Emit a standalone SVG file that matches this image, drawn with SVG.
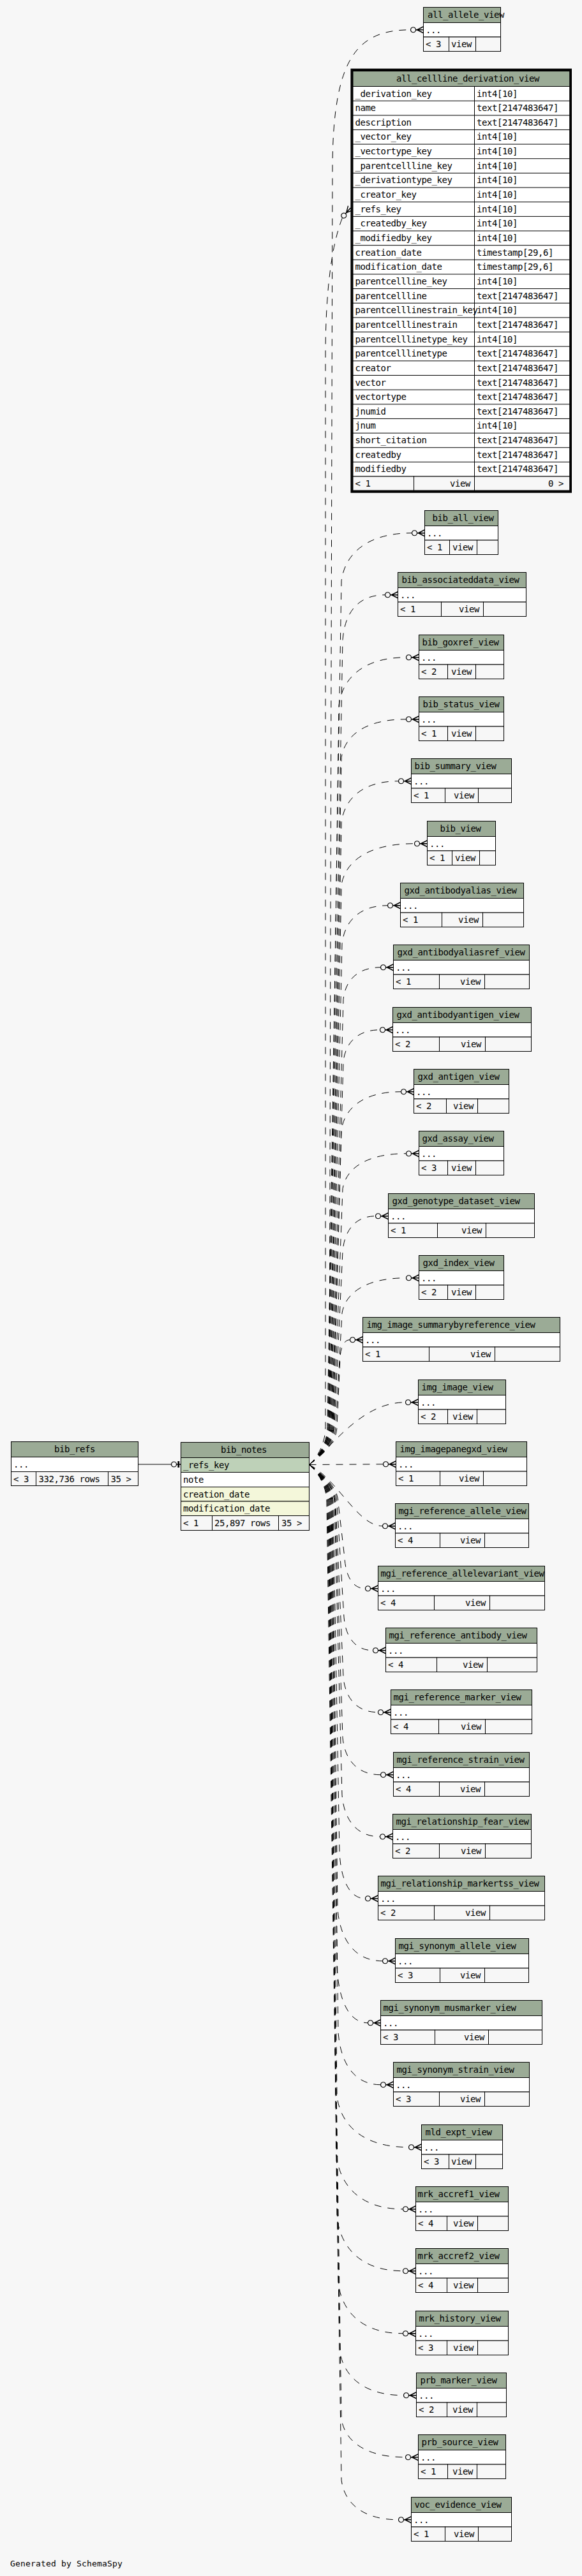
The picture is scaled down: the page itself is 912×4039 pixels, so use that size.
<svg xmlns="http://www.w3.org/2000/svg" width="912" height="4039" viewBox="0 0 912 4039">
<style>
.t{font-family:"DejaVu Sans Mono","Liberation Mono",monospace;font-size:14px;letter-spacing:-0.43px;fill:#000}
.e{text-anchor:end}
.m{text-anchor:middle}
.hd{fill:#9bab96;stroke:#000;stroke-width:1}
.wh{fill:#fff;stroke:#000;stroke-width:1}
.ft{fill:#f7f7f7;stroke:#000;stroke-width:1}
.pk{fill:#bed1b8;stroke:#000;stroke-width:1}
.ix{fill:#f4f7da;stroke:#000;stroke-width:1}
.c{fill:none;stroke:#000;stroke-width:1;stroke-dasharray:11 10}
.s{fill:none;stroke:#000;stroke-width:1}
</style>
<defs>
<marker id="crow" markerUnits="userSpaceOnUse" markerWidth="24" markerHeight="14" refX="20" refY="7" orient="auto" overflow="visible">
<circle cx="4" cy="7" r="4" fill="#f7f7f7" stroke="#000" stroke-width="1.2"/>
<path d="M8 7H20M10 7L20 2M10 7L20 12" fill="none" stroke="#000" stroke-width="1.4"/>
</marker>
<marker id="teeodot" markerUnits="userSpaceOnUse" markerWidth="20" markerHeight="14" refX="16" refY="7" orient="auto" overflow="visible">
<circle cx="5" cy="7" r="4" fill="#f7f7f7" stroke="#000" stroke-width="1.2"/>
<path d="M9 7H16" fill="none" stroke="#000" stroke-width="1"/>
<path d="M12.3 2V12" fill="none" stroke="#000" stroke-width="2.7"/>
</marker>
</defs>
<rect x="0" y="0" width="912" height="4039" fill="#f7f7f7"/>

<g id="connectors">
<path class="s" marker-end="url(#teeodot)" d="M216.5 2296H283.5"/>
<path class="c" marker-end="url(#crow)" d="M484.5 2296.5C494.5 2288.5 510 2266.5 510 2236.5L510 560C510 430 525 370 537.1 339.9L549.3 326"/>
<path class="c" marker-end="url(#crow)" d="M484.5 2296.5C494.5 2288.5 516 2266.5 516 2236.5L521 260C522 90 560 46.75 643.5 46.75H663.5"/>
<path class="c" marker-end="url(#crow)" d="M484.5 2296.5C494.5 2288.5 513 2266.5 513 2236.5L535 910.75C540.5 869.5 573.7 835.75 645.5 835.75H665.5"/>
<path class="c" marker-end="url(#crow)" d="M484.5 2296.5C494.5 2288.5 514 2266.5 514 2236.5L537 1002.75C540.3 961.25 560.3 932.75 603.5 932.75H623.5"/>
<path class="c" marker-end="url(#crow)" d="M484.5 2296.5C494.5 2288.5 515 2266.5 515 2236.5L531 1105.75C536.3 1064.5 567.9 1030.75 636.5 1030.75H656.5"/>
<path class="c" marker-end="url(#crow)" d="M484.5 2296.5C494.5 2288.5 516 2266.5 516 2236.5L535 1187.75C540.1 1154.75 570.5 1127.75 636.5 1127.75H656.5"/>
<path class="c" marker-end="url(#crow)" d="M484.5 2296.5C494.5 2288.5 517 2266.5 517 2236.5L535 1289.75C539.5 1254 566.3 1224.75 624.5 1224.75H644.5"/>
<path class="c" marker-end="url(#crow)" d="M484.5 2296.5C494.5 2288.5 518 2266.5 518 2236.5L535 1387.75C540.7 1352 575.1 1322.75 649.5 1322.75H669.5"/>
<path class="c" marker-end="url(#crow)" d="M484.5 2296.5C494.5 2288.5 519 2266.5 519 2236.5L536 1479.75C539.6 1446.75 561 1419.75 607.5 1419.75H627.5"/>
<path class="c" marker-end="url(#crow)" d="M484.5 2296.5C494.5 2288.5 520 2266.5 520 2236.5L538 1566.75C540.9 1539.25 558.5 1516.75 596.5 1516.75H616.5"/>
<path class="c" marker-end="url(#crow)" d="M484.5 2296.5C494.5 2288.5 521 2266.5 521 2236.5L538 1664.75C540.9 1637.25 558.1 1614.75 595.5 1614.75H615.5"/>
<path class="c" marker-end="url(#crow)" d="M484.5 2296.5C494.5 2288.5 522 2266.5 522 2236.5L535 1771.75C539.7 1738.75 567.7 1711.75 628.5 1711.75H648.5"/>
<path class="c" marker-end="url(#crow)" d="M484.5 2296.5C494.5 2288.5 523 2266.5 523 2236.5L537 1863.75C542 1833.5 571.8 1808.75 636.5 1808.75H656.5"/>
<path class="c" marker-end="url(#crow)" d="M484.5 2296.5C494.5 2288.5 524 2266.5 524 2236.5L537 1961.75C539.6 1931.5 555 1906.75 588.5 1906.75H608.5"/>
<path class="c" marker-end="url(#crow)" d="M484.5 2296.5C494.5 2288.5 526 2266.5 526 2236.5L536 2058.75C541 2028.5 571.2 2003.75 636.5 2003.75H656.5"/>
<path class="c" marker-end="url(#crow)" d="M484.5 2296.5C494.5 2288.5 528 2266.5 528 2236.5L533 2128.75C533.8 2113.35 538.4 2100.75 548.5 2100.75H568.5"/>
<path class="c" marker-end="url(#crow)" d="M484.5 2296.5C520 2270 565 2198.75 635.5 2198.75H655.5"/>
<path class="c" marker-end="url(#crow)" d="M484.5 2296.5L600.5 2295.75H620.5"/>
<path class="c" marker-end="url(#crow)" d="M484.5 2296.5C530 2320 560 2392.75 599.5 2392.75H619.5"/>
<path class="c" marker-end="url(#crow)" d="M484.5 2296.5C494.5 2304.5 530 2326.5 530 2356.5L540 2442.75C541.6 2469.15 551.4 2490.75 572.5 2490.75H592.5"/>
<path class="c" marker-end="url(#crow)" d="M484.5 2296.5C494.5 2304.5 528 2326.5 528 2356.5L539 2535.75C541.3 2564.35 554.9 2587.75 584.5 2587.75H604.5"/>
<path class="c" marker-end="url(#crow)" d="M484.5 2296.5C494.5 2304.5 526 2326.5 526 2356.5L538 2629.75C540.7 2660 557.1 2684.75 592.5 2684.75H612.5"/>
<path class="c" marker-end="url(#crow)" d="M484.5 2296.5C494.5 2304.5 525 2326.5 525 2356.5L537 2724.75C540 2756.65 557.8 2782.75 596.5 2782.75H616.5"/>
<path class="c" marker-end="url(#crow)" d="M484.5 2296.5C494.5 2304.5 524 2326.5 524 2356.5L536 2814.75C539 2850.5 556.8 2879.75 595.5 2879.75H615.5"/>
<path class="c" marker-end="url(#crow)" d="M484.5 2296.5C494.5 2304.5 522 2326.5 522 2356.5L532 2904.75C534 2944.35 546.2 2976.75 572.5 2976.75H592.5"/>
<path class="c" marker-end="url(#crow)" d="M484.5 2296.5C494.5 2304.5 521 2326.5 521 2356.5L529 2992.75C532.5 3037.85 553.7 3074.75 599.5 3074.75H619.5"/>
<path class="c" marker-end="url(#crow)" d="M484.5 2296.5C494.5 2304.5 520 2326.5 520 2356.5L528 3083.75C530.4 3132.15 545 3171.75 576.5 3171.75H596.5"/>
<path class="c" marker-end="url(#crow)" d="M484.5 2296.5C494.5 2304.5 519 2326.5 519 2356.5L530 3186.75C533.3 3231.85 553.3 3268.75 596.5 3268.75H616.5"/>
<path class="c" marker-end="url(#crow)" d="M484.5 2296.5C494.5 2304.5 518 2326.5 518 2356.5L528 3286.75C533.6 3330.75 567.4 3366.75 640.5 3366.75H660.5"/>
<path class="c" marker-end="url(#crow)" d="M484.5 2296.5C494.5 2304.5 517 2326.5 517 2356.5L527 3378.75C532.2 3425.5 563.6 3463.75 631.5 3463.75H651.5"/>
<path class="c" marker-end="url(#crow)" d="M484.5 2296.5C494.5 2304.5 516 2326.5 516 2356.5L528 3475.75C533.2 3522.5 564.2 3560.75 631.5 3560.75H651.5"/>
<path class="c" marker-end="url(#crow)" d="M484.5 2296.5C494.5 2304.5 515 2326.5 515 2356.5L530 3578.75C535.1 3622.75 565.5 3658.75 631.5 3658.75H651.5"/>
<path class="c" marker-end="url(#crow)" d="M484.5 2296.5C494.5 2304.5 514 2326.5 514 2356.5L532 3683.75C537 3723.35 567.2 3755.75 632.5 3755.75H652.5"/>
<path class="c" marker-end="url(#crow)" d="M484.5 2296.5C494.5 2304.5 513 2326.5 513 2356.5L535 3792.75C540 3825.75 570.2 3852.75 635.5 3852.75H655.5"/>
<path class="c" marker-end="url(#crow)" d="M484.5 2296.5C494.5 2304.5 512 2326.5 512 2356.5L535 3888.75C539.5 3922.85 566.3 3950.75 624.5 3950.75H644.5"/>
</g>

<g id="bib_refs">
<rect class="hd" x="17.5" y="2260.5" width="199" height="24"/>
<rect class="wh" x="17.5" y="2284.5" width="199" height="23"/>
<rect class="ft" x="17.5" y="2307.5" width="39" height="22"/>
<rect class="ft" x="56.5" y="2307.5" width="113" height="22"/>
<rect class="ft" x="169.5" y="2307.5" width="47" height="22"/>
<text class="t m" x="117" y="2277">bib_refs</text>
<text class="t" x="21" y="2300.5">...</text>
<text class="t" x="21" y="2323.5">&lt; 3</text>
<text class="t" x="60.5" y="2323.5">332,736 rows</text>
<text class="t" x="173.5" y="2323.5">35 &gt;</text>
</g>

<g id="bib_notes">
<rect class="hd" x="283.5" y="2261.5" width="201" height="24"/>
<rect class="pk" x="283.5" y="2285.5" width="201" height="23"/>
<rect class="wh" x="283.5" y="2308.5" width="201" height="23"/>
<rect class="ix" x="283.5" y="2331.5" width="201" height="22.5"/>
<rect class="ix" x="283.5" y="2354" width="201" height="22.5"/>
<rect class="ft" x="283.5" y="2376.5" width="49" height="23"/>
<rect class="ft" x="332.5" y="2376.5" width="104" height="23"/>
<rect class="ft" x="436.5" y="2376.5" width="48" height="23"/>
<text class="t m" x="382" y="2278">bib_notes</text>
<text class="t" x="287" y="2301.5">_refs_key</text>
<text class="t" x="287" y="2324.5">note</text>
<text class="t" x="287" y="2347.5">creation_date</text>
<text class="t" x="287" y="2370">modification_date</text>
<text class="t" x="287" y="2392.5">&lt; 1</text>
<text class="t" x="336" y="2392.5">25,897 rows</text>
<text class="t" x="441" y="2392.5">35 &gt;</text>
</g>

<g id="all_cellline_derivation_view">
<rect class="hd" x="553" y="111.5" width="340" height="24"/>
<rect class="wh" x="553" y="135.5" width="340" height="611.5"/>
<path class="s" d="M553 158.15H893M553 180.8H893M553 203.45H893M553 226.1H893M553 248.75H893M553 271.4H893M553 294.05H893M553 316.7H893M553 339.35H893M553 362H893M553 384.65H893M553 407.3H893M553 429.95H893M553 452.6H893M553 475.25H893M553 497.9H893M553 520.55H893M553 543.2H893M553 565.85H893M553 588.5H893M553 611.15H893M553 633.8H893M553 656.45H893M553 679.1H893M553 701.75H893M553 724.4H893M743.5 135.5V747"/>
<rect class="ft" x="553" y="747" width="95.5" height="22"/>
<rect class="ft" x="648.5" y="747" width="95" height="22"/>
<rect class="ft" x="743.5" y="747" width="149.5" height="22"/>
<rect x="551.2" y="109.4" width="343" height="661.6" fill="none" stroke="#000" stroke-width="3.6"/>
<text class="t" x="621" y="128">all_cellline_derivation_view</text>
<text class="t" x="556.5" y="151.5">_derivation_key</text><text class="t" x="747" y="151.5">int4[10]</text>
<text class="t" x="556.5" y="174.15">name</text><text class="t" x="747" y="174.15">text[2147483647]</text>
<text class="t" x="556.5" y="196.8">description</text><text class="t" x="747" y="196.8">text[2147483647]</text>
<text class="t" x="556.5" y="219.45">_vector_key</text><text class="t" x="747" y="219.45">int4[10]</text>
<text class="t" x="556.5" y="242.1">_vectortype_key</text><text class="t" x="747" y="242.1">int4[10]</text>
<text class="t" x="556.5" y="264.75">_parentcellline_key</text><text class="t" x="747" y="264.75">int4[10]</text>
<text class="t" x="556.5" y="287.4">_derivationtype_key</text><text class="t" x="747" y="287.4">int4[10]</text>
<text class="t" x="556.5" y="310.05">_creator_key</text><text class="t" x="747" y="310.05">int4[10]</text>
<text class="t" x="556.5" y="332.7">_refs_key</text><text class="t" x="747" y="332.7">int4[10]</text>
<text class="t" x="556.5" y="355.35">_createdby_key</text><text class="t" x="747" y="355.35">int4[10]</text>
<text class="t" x="556.5" y="378">_modifiedby_key</text><text class="t" x="747" y="378">int4[10]</text>
<text class="t" x="556.5" y="400.65">creation_date</text><text class="t" x="747" y="400.65">timestamp[29,6]</text>
<text class="t" x="556.5" y="423.3">modification_date</text><text class="t" x="747" y="423.3">timestamp[29,6]</text>
<text class="t" x="556.5" y="445.95">parentcellline_key</text><text class="t" x="747" y="445.95">int4[10]</text>
<text class="t" x="556.5" y="468.6">parentcellline</text><text class="t" x="747" y="468.6">text[2147483647]</text>
<text class="t" x="556.5" y="491.25">parentcelllinestrain_key</text><text class="t" x="747" y="491.25">int4[10]</text>
<text class="t" x="556.5" y="513.9">parentcelllinestrain</text><text class="t" x="747" y="513.9">text[2147483647]</text>
<text class="t" x="556.5" y="536.55">parentcelllinetype_key</text><text class="t" x="747" y="536.55">int4[10]</text>
<text class="t" x="556.5" y="559.2">parentcelllinetype</text><text class="t" x="747" y="559.2">text[2147483647]</text>
<text class="t" x="556.5" y="581.85">creator</text><text class="t" x="747" y="581.85">text[2147483647]</text>
<text class="t" x="556.5" y="604.5">vector</text><text class="t" x="747" y="604.5">text[2147483647]</text>
<text class="t" x="556.5" y="627.15">vectortype</text><text class="t" x="747" y="627.15">text[2147483647]</text>
<text class="t" x="556.5" y="649.8">jnumid</text><text class="t" x="747" y="649.8">text[2147483647]</text>
<text class="t" x="556.5" y="672.45">jnum</text><text class="t" x="747" y="672.45">int4[10]</text>
<text class="t" x="556.5" y="695.1">short_citation</text><text class="t" x="747" y="695.1">text[2147483647]</text>
<text class="t" x="556.5" y="717.75">createdby</text><text class="t" x="747" y="717.75">text[2147483647]</text>
<text class="t" x="556.5" y="740.4">modifiedby</text><text class="t" x="747" y="740.4">text[2147483647]</text>
<text class="t" x="556.5" y="763">&lt; 1</text>
<text class="t e" x="737" y="763">view</text>
<text class="t e" x="883" y="763">0 &gt;</text>
</g>

<g id="all_allele_view">
<rect class="hd" x="663.5" y="11.5" width="121" height="24"/>
<rect class="wh" x="663.5" y="35.5" width="121" height="22.5"/>
<rect class="ft" x="663.5" y="58" width="40" height="22.5"/>
<rect class="ft" x="703.5" y="58" width="42" height="22.5"/>
<rect class="ft" x="745.5" y="58" width="39" height="22.5"/>
<text class="t" x="670" y="28">all_allele_view</text>
<text class="t" x="667" y="51.5">...</text>
<text class="t" x="667" y="74">&lt; 3</text>
<text class="t e" x="739" y="74">view</text>
</g>

<g id="bib_all_view">
<rect class="hd" x="665.5" y="800.5" width="115" height="24"/>
<rect class="wh" x="665.5" y="824.5" width="115" height="22.5"/>
<rect class="ft" x="665.5" y="847" width="39" height="22.5"/>
<rect class="ft" x="704.5" y="847" width="43" height="22.5"/>
<rect class="ft" x="747.5" y="847" width="33" height="22.5"/>
<text class="t" x="677.5" y="817">bib_all_view</text>
<text class="t" x="669" y="840.5">...</text>
<text class="t" x="669" y="863">&lt; 1</text>
<text class="t e" x="741" y="863">view</text>
</g>

<g id="bib_associateddata_view">
<rect class="hd" x="623.5" y="897.5" width="201" height="24"/>
<rect class="wh" x="623.5" y="921.5" width="201" height="22.5"/>
<rect class="ft" x="623.5" y="944" width="68" height="22.5"/>
<rect class="ft" x="691.5" y="944" width="66" height="22.5"/>
<rect class="ft" x="757.5" y="944" width="67" height="22.5"/>
<text class="t" x="629.5" y="914">bib_associateddata_view</text>
<text class="t" x="627" y="937.5">...</text>
<text class="t" x="627" y="960">&lt; 1</text>
<text class="t e" x="751" y="960">view</text>
</g>

<g id="bib_goxref_view">
<rect class="hd" x="656.5" y="995.5" width="133" height="24"/>
<rect class="wh" x="656.5" y="1019.5" width="133" height="22.5"/>
<rect class="ft" x="656.5" y="1042" width="45" height="22.5"/>
<rect class="ft" x="701.5" y="1042" width="44" height="22.5"/>
<rect class="ft" x="745.5" y="1042" width="44" height="22.5"/>
<text class="t" x="661.5" y="1012">bib_goxref_view</text>
<text class="t" x="660" y="1035.5">...</text>
<text class="t" x="660" y="1058">&lt; 2</text>
<text class="t e" x="739" y="1058">view</text>
</g>

<g id="bib_status_view">
<rect class="hd" x="656.5" y="1092.5" width="133" height="24"/>
<rect class="wh" x="656.5" y="1116.5" width="133" height="22.5"/>
<rect class="ft" x="656.5" y="1139" width="45" height="22.5"/>
<rect class="ft" x="701.5" y="1139" width="44" height="22.5"/>
<rect class="ft" x="745.5" y="1139" width="44" height="22.5"/>
<text class="t" x="662.5" y="1109">bib_status_view</text>
<text class="t" x="660" y="1132.5">...</text>
<text class="t" x="660" y="1155">&lt; 1</text>
<text class="t e" x="739" y="1155">view</text>
</g>

<g id="bib_summary_view">
<rect class="hd" x="644.5" y="1189.5" width="157" height="24"/>
<rect class="wh" x="644.5" y="1213.5" width="157" height="22.5"/>
<rect class="ft" x="644.5" y="1236" width="53" height="22.5"/>
<rect class="ft" x="697.5" y="1236" width="52" height="22.5"/>
<rect class="ft" x="749.5" y="1236" width="52" height="22.5"/>
<text class="t" x="649.5" y="1206">bib_summary_view</text>
<text class="t" x="648" y="1229.5">...</text>
<text class="t" x="648" y="1252">&lt; 1</text>
<text class="t e" x="743" y="1252">view</text>
</g>

<g id="bib_view">
<rect class="hd" x="669.5" y="1287.5" width="107" height="24"/>
<rect class="wh" x="669.5" y="1311.5" width="107" height="22.5"/>
<rect class="ft" x="669.5" y="1334" width="39" height="22.5"/>
<rect class="ft" x="708.5" y="1334" width="43" height="22.5"/>
<rect class="ft" x="751.5" y="1334" width="25" height="22.5"/>
<text class="t" x="689.5" y="1304">bib_view</text>
<text class="t" x="673" y="1327.5">...</text>
<text class="t" x="673" y="1350">&lt; 1</text>
<text class="t e" x="745" y="1350">view</text>
</g>

<g id="gxd_antibodyalias_view">
<rect class="hd" x="627.5" y="1384.5" width="193" height="24"/>
<rect class="wh" x="627.5" y="1408.5" width="193" height="22.5"/>
<rect class="ft" x="627.5" y="1431" width="65" height="22.5"/>
<rect class="ft" x="692.5" y="1431" width="64" height="22.5"/>
<rect class="ft" x="756.5" y="1431" width="64" height="22.5"/>
<text class="t" x="633.5" y="1401">gxd_antibodyalias_view</text>
<text class="t" x="631" y="1424.5">...</text>
<text class="t" x="631" y="1447">&lt; 1</text>
<text class="t e" x="750" y="1447">view</text>
</g>

<g id="gxd_antibodyaliasref_view">
<rect class="hd" x="616.5" y="1481.5" width="213" height="24"/>
<rect class="wh" x="616.5" y="1505.5" width="213" height="22.5"/>
<rect class="ft" x="616.5" y="1528" width="72" height="22.5"/>
<rect class="ft" x="688.5" y="1528" width="71" height="22.5"/>
<rect class="ft" x="759.5" y="1528" width="70" height="22.5"/>
<text class="t" x="622.5" y="1498">gxd_antibodyaliasref_view</text>
<text class="t" x="620" y="1521.5">...</text>
<text class="t" x="620" y="1544">&lt; 1</text>
<text class="t e" x="753" y="1544">view</text>
</g>

<g id="gxd_antibodyantigen_view">
<rect class="hd" x="615.5" y="1579.5" width="217" height="24"/>
<rect class="wh" x="615.5" y="1603.5" width="217" height="22.5"/>
<rect class="ft" x="615.5" y="1626" width="73" height="22.5"/>
<rect class="ft" x="688.5" y="1626" width="72" height="22.5"/>
<rect class="ft" x="760.5" y="1626" width="72" height="22.5"/>
<text class="t" x="621.5" y="1596">gxd_antibodyantigen_view</text>
<text class="t" x="619" y="1619.5">...</text>
<text class="t" x="619" y="1642">&lt; 2</text>
<text class="t e" x="754" y="1642">view</text>
</g>

<g id="gxd_antigen_view">
<rect class="hd" x="648.5" y="1676.5" width="149" height="24"/>
<rect class="wh" x="648.5" y="1700.5" width="149" height="22.5"/>
<rect class="ft" x="648.5" y="1723" width="51" height="22.5"/>
<rect class="ft" x="699.5" y="1723" width="49" height="22.5"/>
<rect class="ft" x="748.5" y="1723" width="49" height="22.5"/>
<text class="t" x="654.5" y="1693">gxd_antigen_view</text>
<text class="t" x="652" y="1716.5">...</text>
<text class="t" x="652" y="1739">&lt; 2</text>
<text class="t e" x="742" y="1739">view</text>
</g>

<g id="gxd_assay_view">
<rect class="hd" x="656.5" y="1773.5" width="133" height="24"/>
<rect class="wh" x="656.5" y="1797.5" width="133" height="22.5"/>
<rect class="ft" x="656.5" y="1820" width="45" height="22.5"/>
<rect class="ft" x="701.5" y="1820" width="44" height="22.5"/>
<rect class="ft" x="745.5" y="1820" width="44" height="22.5"/>
<text class="t" x="661.5" y="1790">gxd_assay_view</text>
<text class="t" x="660" y="1813.5">...</text>
<text class="t" x="660" y="1836">&lt; 3</text>
<text class="t e" x="739" y="1836">view</text>
</g>

<g id="gxd_genotype_dataset_view">
<rect class="hd" x="608.5" y="1871.5" width="229" height="24"/>
<rect class="wh" x="608.5" y="1895.5" width="229" height="22.5"/>
<rect class="ft" x="608.5" y="1918" width="77" height="22.5"/>
<rect class="ft" x="685.5" y="1918" width="76" height="22.5"/>
<rect class="ft" x="761.5" y="1918" width="76" height="22.5"/>
<text class="t" x="614.5" y="1888">gxd_genotype_dataset_view</text>
<text class="t" x="612" y="1911.5">...</text>
<text class="t" x="612" y="1934">&lt; 1</text>
<text class="t e" x="755" y="1934">view</text>
</g>

<g id="gxd_index_view">
<rect class="hd" x="656.5" y="1968.5" width="133" height="24"/>
<rect class="wh" x="656.5" y="1992.5" width="133" height="22.5"/>
<rect class="ft" x="656.5" y="2015" width="45" height="22.5"/>
<rect class="ft" x="701.5" y="2015" width="44" height="22.5"/>
<rect class="ft" x="745.5" y="2015" width="44" height="22.5"/>
<text class="t" x="662.5" y="1985">gxd_index_view</text>
<text class="t" x="660" y="2008.5">...</text>
<text class="t" x="660" y="2031">&lt; 2</text>
<text class="t e" x="739" y="2031">view</text>
</g>

<g id="img_image_summarybyreference_view">
<rect class="hd" x="568.5" y="2065.5" width="309" height="24"/>
<rect class="wh" x="568.5" y="2089.5" width="309" height="22.5"/>
<rect class="ft" x="568.5" y="2112" width="104" height="22.5"/>
<rect class="ft" x="672.5" y="2112" width="103" height="22.5"/>
<rect class="ft" x="775.5" y="2112" width="102" height="22.5"/>
<text class="t" x="574.5" y="2082">img_image_summarybyreference_view</text>
<text class="t" x="572" y="2105.5">...</text>
<text class="t" x="572" y="2128">&lt; 1</text>
<text class="t e" x="769" y="2128">view</text>
</g>

<g id="img_image_view">
<rect class="hd" x="655.5" y="2163.5" width="137" height="24"/>
<rect class="wh" x="655.5" y="2187.5" width="137" height="22.5"/>
<rect class="ft" x="655.5" y="2210" width="46" height="22.5"/>
<rect class="ft" x="701.5" y="2210" width="46" height="22.5"/>
<rect class="ft" x="747.5" y="2210" width="45" height="22.5"/>
<text class="t" x="660.5" y="2180">img_image_view</text>
<text class="t" x="659" y="2203.5">...</text>
<text class="t" x="659" y="2226">&lt; 2</text>
<text class="t e" x="741" y="2226">view</text>
</g>

<g id="img_imagepanegxd_view">
<rect class="hd" x="620.5" y="2260.5" width="205" height="24"/>
<rect class="wh" x="620.5" y="2284.5" width="205" height="22.5"/>
<rect class="ft" x="620.5" y="2307" width="69" height="22.5"/>
<rect class="ft" x="689.5" y="2307" width="68" height="22.5"/>
<rect class="ft" x="757.5" y="2307" width="68" height="22.5"/>
<text class="t" x="626.5" y="2277">img_imagepanegxd_view</text>
<text class="t" x="624" y="2300.5">...</text>
<text class="t" x="624" y="2323">&lt; 1</text>
<text class="t e" x="751" y="2323">view</text>
</g>

<g id="mgi_reference_allele_view">
<rect class="hd" x="619.5" y="2357.5" width="209" height="24"/>
<rect class="wh" x="619.5" y="2381.5" width="209" height="22.5"/>
<rect class="ft" x="619.5" y="2404" width="70" height="22.5"/>
<rect class="ft" x="689.5" y="2404" width="70" height="22.5"/>
<rect class="ft" x="759.5" y="2404" width="69" height="22.5"/>
<text class="t" x="624.5" y="2374">mgi_reference_allele_view</text>
<text class="t" x="623" y="2397.5">...</text>
<text class="t" x="623" y="2420">&lt; 4</text>
<text class="t e" x="753" y="2420">view</text>
</g>

<g id="mgi_reference_allelevariant_view">
<rect class="hd" x="592.5" y="2455.5" width="261" height="24"/>
<rect class="wh" x="592.5" y="2479.5" width="261" height="22.5"/>
<rect class="ft" x="592.5" y="2502" width="88" height="22.5"/>
<rect class="ft" x="680.5" y="2502" width="87" height="22.5"/>
<rect class="ft" x="767.5" y="2502" width="86" height="22.5"/>
<text class="t" x="596.5" y="2472">mgi_reference_allelevariant_view</text>
<text class="t" x="596" y="2495.5">...</text>
<text class="t" x="596" y="2518">&lt; 4</text>
<text class="t e" x="761" y="2518">view</text>
</g>

<g id="mgi_reference_antibody_view">
<rect class="hd" x="604.5" y="2552.5" width="237" height="24"/>
<rect class="wh" x="604.5" y="2576.5" width="237" height="22.5"/>
<rect class="ft" x="604.5" y="2599" width="80" height="22.5"/>
<rect class="ft" x="684.5" y="2599" width="79" height="22.5"/>
<rect class="ft" x="763.5" y="2599" width="78" height="22.5"/>
<text class="t" x="609.5" y="2569">mgi_reference_antibody_view</text>
<text class="t" x="608" y="2592.5">...</text>
<text class="t" x="608" y="2615">&lt; 4</text>
<text class="t e" x="757" y="2615">view</text>
</g>

<g id="mgi_reference_marker_view">
<rect class="hd" x="612.5" y="2649.5" width="221" height="24"/>
<rect class="wh" x="612.5" y="2673.5" width="221" height="22.5"/>
<rect class="ft" x="612.5" y="2696" width="75" height="22.5"/>
<rect class="ft" x="687.5" y="2696" width="73" height="22.5"/>
<rect class="ft" x="760.5" y="2696" width="73" height="22.5"/>
<text class="t" x="616.5" y="2666">mgi_reference_marker_view</text>
<text class="t" x="616" y="2689.5">...</text>
<text class="t" x="616" y="2712">&lt; 4</text>
<text class="t e" x="754" y="2712">view</text>
</g>

<g id="mgi_reference_strain_view">
<rect class="hd" x="616.5" y="2747.5" width="213" height="24"/>
<rect class="wh" x="616.5" y="2771.5" width="213" height="22.5"/>
<rect class="ft" x="616.5" y="2794" width="72" height="22.5"/>
<rect class="ft" x="688.5" y="2794" width="71" height="22.5"/>
<rect class="ft" x="759.5" y="2794" width="70" height="22.5"/>
<text class="t" x="621.5" y="2764">mgi_reference_strain_view</text>
<text class="t" x="620" y="2787.5">...</text>
<text class="t" x="620" y="2810">&lt; 4</text>
<text class="t e" x="753" y="2810">view</text>
</g>

<g id="mgi_relationship_fear_view">
<rect class="hd" x="615.5" y="2844.5" width="217" height="24"/>
<rect class="wh" x="615.5" y="2868.5" width="217" height="22.5"/>
<rect class="ft" x="615.5" y="2891" width="73" height="22.5"/>
<rect class="ft" x="688.5" y="2891" width="72" height="22.5"/>
<rect class="ft" x="760.5" y="2891" width="72" height="22.5"/>
<text class="t" x="620.5" y="2861">mgi_relationship_fear_view</text>
<text class="t" x="619" y="2884.5">...</text>
<text class="t" x="619" y="2907">&lt; 2</text>
<text class="t e" x="754" y="2907">view</text>
</g>

<g id="mgi_relationship_markertss_view">
<rect class="hd" x="592.5" y="2941.5" width="261" height="24"/>
<rect class="wh" x="592.5" y="2965.5" width="261" height="22.5"/>
<rect class="ft" x="592.5" y="2988" width="88" height="22.5"/>
<rect class="ft" x="680.5" y="2988" width="87" height="22.5"/>
<rect class="ft" x="767.5" y="2988" width="86" height="22.5"/>
<text class="t" x="596.5" y="2958">mgi_relationship_markertss_view</text>
<text class="t" x="596" y="2981.5">...</text>
<text class="t" x="596" y="3004">&lt; 2</text>
<text class="t e" x="761" y="3004">view</text>
</g>

<g id="mgi_synonym_allele_view">
<rect class="hd" x="619.5" y="3039.5" width="209" height="24"/>
<rect class="wh" x="619.5" y="3063.5" width="209" height="22.5"/>
<rect class="ft" x="619.5" y="3086" width="70" height="22.5"/>
<rect class="ft" x="689.5" y="3086" width="70" height="22.5"/>
<rect class="ft" x="759.5" y="3086" width="69" height="22.5"/>
<text class="t" x="624.5" y="3056">mgi_synonym_allele_view</text>
<text class="t" x="623" y="3079.5">...</text>
<text class="t" x="623" y="3102">&lt; 3</text>
<text class="t e" x="753" y="3102">view</text>
</g>

<g id="mgi_synonym_musmarker_view">
<rect class="hd" x="596.5" y="3136.5" width="253" height="24"/>
<rect class="wh" x="596.5" y="3160.5" width="253" height="22.5"/>
<rect class="ft" x="596.5" y="3183" width="85" height="22.5"/>
<rect class="ft" x="681.5" y="3183" width="84" height="22.5"/>
<rect class="ft" x="765.5" y="3183" width="84" height="22.5"/>
<text class="t" x="600.5" y="3153">mgi_synonym_musmarker_view</text>
<text class="t" x="600" y="3176.5">...</text>
<text class="t" x="600" y="3199">&lt; 3</text>
<text class="t e" x="759" y="3199">view</text>
</g>

<g id="mgi_synonym_strain_view">
<rect class="hd" x="616.5" y="3233.5" width="213" height="24"/>
<rect class="wh" x="616.5" y="3257.5" width="213" height="22.5"/>
<rect class="ft" x="616.5" y="3280" width="72" height="22.5"/>
<rect class="ft" x="688.5" y="3280" width="71" height="22.5"/>
<rect class="ft" x="759.5" y="3280" width="70" height="22.5"/>
<text class="t" x="621.5" y="3250">mgi_synonym_strain_view</text>
<text class="t" x="620" y="3273.5">...</text>
<text class="t" x="620" y="3296">&lt; 3</text>
<text class="t e" x="753" y="3296">view</text>
</g>

<g id="mld_expt_view">
<rect class="hd" x="660.5" y="3331.5" width="127" height="24"/>
<rect class="wh" x="660.5" y="3355.5" width="127" height="22.5"/>
<rect class="ft" x="660.5" y="3378" width="43" height="22.5"/>
<rect class="ft" x="703.5" y="3378" width="42" height="22.5"/>
<rect class="ft" x="745.5" y="3378" width="42" height="22.5"/>
<text class="t" x="666.5" y="3348">mld_expt_view</text>
<text class="t" x="664" y="3371.5">...</text>
<text class="t" x="664" y="3394">&lt; 3</text>
<text class="t e" x="739" y="3394">view</text>
</g>

<g id="mrk_accref1_view">
<rect class="hd" x="651.5" y="3428.5" width="145" height="24"/>
<rect class="wh" x="651.5" y="3452.5" width="145" height="22.5"/>
<rect class="ft" x="651.5" y="3475" width="49" height="22.5"/>
<rect class="ft" x="700.5" y="3475" width="48" height="22.5"/>
<rect class="ft" x="748.5" y="3475" width="48" height="22.5"/>
<text class="t" x="654.5" y="3445">mrk_accref1_view</text>
<text class="t" x="655" y="3468.5">...</text>
<text class="t" x="655" y="3491">&lt; 4</text>
<text class="t e" x="742" y="3491">view</text>
</g>

<g id="mrk_accref2_view">
<rect class="hd" x="651.5" y="3525.5" width="145" height="24"/>
<rect class="wh" x="651.5" y="3549.5" width="145" height="22.5"/>
<rect class="ft" x="651.5" y="3572" width="49" height="22.5"/>
<rect class="ft" x="700.5" y="3572" width="48" height="22.5"/>
<rect class="ft" x="748.5" y="3572" width="48" height="22.5"/>
<text class="t" x="654.5" y="3542">mrk_accref2_view</text>
<text class="t" x="655" y="3565.5">...</text>
<text class="t" x="655" y="3588">&lt; 4</text>
<text class="t e" x="742" y="3588">view</text>
</g>

<g id="mrk_history_view">
<rect class="hd" x="651.5" y="3623.5" width="145" height="24"/>
<rect class="wh" x="651.5" y="3647.5" width="145" height="22.5"/>
<rect class="ft" x="651.5" y="3670" width="49" height="22.5"/>
<rect class="ft" x="700.5" y="3670" width="48" height="22.5"/>
<rect class="ft" x="748.5" y="3670" width="48" height="22.5"/>
<text class="t" x="656.5" y="3640">mrk_history_view</text>
<text class="t" x="655" y="3663.5">...</text>
<text class="t" x="655" y="3686">&lt; 3</text>
<text class="t e" x="742" y="3686">view</text>
</g>

<g id="prb_marker_view">
<rect class="hd" x="652.5" y="3720.5" width="141" height="24"/>
<rect class="wh" x="652.5" y="3744.5" width="141" height="22.5"/>
<rect class="ft" x="652.5" y="3767" width="48" height="22.5"/>
<rect class="ft" x="700.5" y="3767" width="47" height="22.5"/>
<rect class="ft" x="747.5" y="3767" width="46" height="22.5"/>
<text class="t" x="658.5" y="3737">prb_marker_view</text>
<text class="t" x="656" y="3760.5">...</text>
<text class="t" x="656" y="3783">&lt; 2</text>
<text class="t e" x="741" y="3783">view</text>
</g>

<g id="prb_source_view">
<rect class="hd" x="655.5" y="3817.5" width="137" height="24"/>
<rect class="wh" x="655.5" y="3841.5" width="137" height="22.5"/>
<rect class="ft" x="655.5" y="3864" width="46" height="22.5"/>
<rect class="ft" x="701.5" y="3864" width="46" height="22.5"/>
<rect class="ft" x="747.5" y="3864" width="45" height="22.5"/>
<text class="t" x="660.5" y="3834">prb_source_view</text>
<text class="t" x="659" y="3857.5">...</text>
<text class="t" x="659" y="3880">&lt; 1</text>
<text class="t e" x="741" y="3880">view</text>
</g>

<g id="voc_evidence_view">
<rect class="hd" x="644.5" y="3915.5" width="157" height="24"/>
<rect class="wh" x="644.5" y="3939.5" width="157" height="22.5"/>
<rect class="ft" x="644.5" y="3962" width="53" height="22.5"/>
<rect class="ft" x="697.5" y="3962" width="52" height="22.5"/>
<rect class="ft" x="749.5" y="3962" width="52" height="22.5"/>
<text class="t" x="649.5" y="3932">voc_evidence_view</text>
<text class="t" x="648" y="3955.5">...</text>
<text class="t" x="648" y="3978">&lt; 1</text>
<text class="t e" x="743" y="3978">view</text>
</g>

<text class="t" x="16" y="4024" style="font-size:13px;letter-spacing:0.17px">Generated by SchemaSpy</text>
</svg>
